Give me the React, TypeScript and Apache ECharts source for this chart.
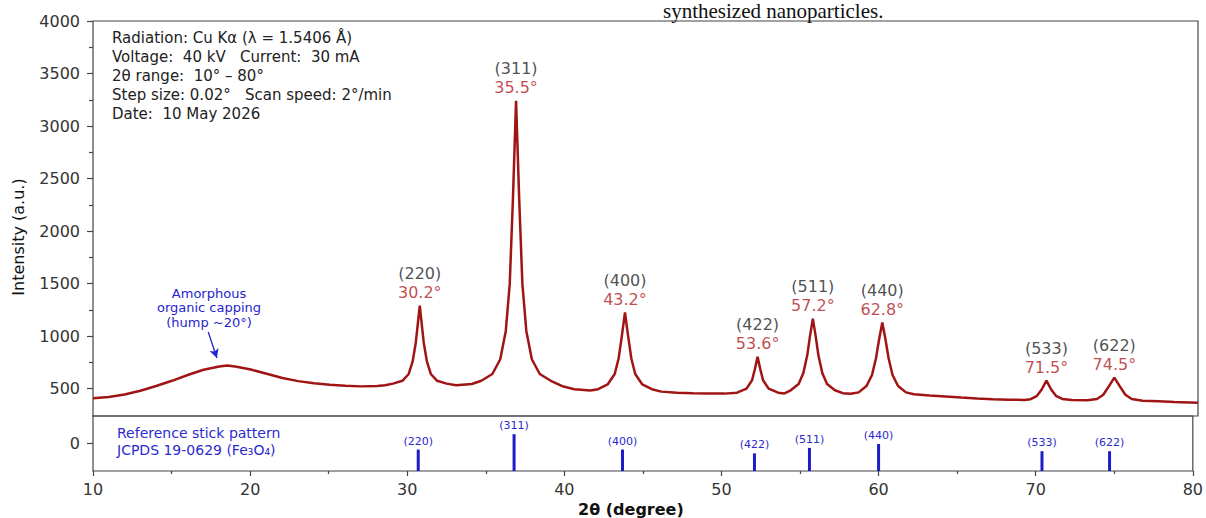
import React, { useEffect, useRef } from "react";
import * as echarts from "echarts";

const patternTheta = [
  10, 11, 12, 13, 14, 15, 16, 17, 18, 18.5, 19, 20, 21, 22, 23, 24, 25, 26, 27, 28, 28.5,
  29.0, 29.6, 30.0, 30.25, 30.45, 30.6, 30.7, 30.8, 30.95, 31.15, 31.4, 31.8, 32.4, 33, 34,
  34.6, 35.3, 35.8, 36.15, 36.4, 36.6, 36.8, 37.0, 37.2, 37.45, 37.8, 38.3, 39.0, 39.8, 40.5, 41.5,
  42.0, 42.6, 43.05, 43.3, 43.5, 43.7, 43.9, 44.1, 44.35, 44.8, 45.4, 46, 47, 48, 49, 50,
  50.8, 51.4, 51.75, 51.92, 52.1, 52.28, 52.45, 52.8, 53.4, 53.8,
  54.2, 54.7, 55.0, 55.25, 55.42, 55.6, 55.78, 55.95, 56.2, 56.5, 57.0, 57.5, 58,
  58.5, 59.0, 59.35, 59.6, 59.8, 60.0, 60.2, 60.4, 60.65, 61.0, 61.5, 62, 63, 64, 65, 66, 67, 68, 69,
  69.4, 69.8, 70.1, 70.4, 70.7, 71.0, 71.4, 72, 73,
  73.6, 74.0, 74.35, 74.7, 75.05, 75.4, 75.8, 76.5, 77.5, 78.5, 80,
];
const patternIntensity = [
  410, 420, 445, 480, 525, 575, 630, 680, 712, 720, 712, 682, 642, 602, 572, 552, 537, 527, 522, 525, 532,
  548, 575, 640, 760, 940, 1150, 1290, 1150, 940, 760, 640, 575, 548, 532, 545,
  575, 640, 780, 1050, 1500, 2300, 3240, 2300, 1500, 1050, 780, 640, 575, 520, 495, 482,
  495, 540, 640, 790, 1000, 1225, 1000, 790, 640, 540, 495, 472, 462, 456, 453, 453,
  462, 500, 580, 680, 805, 680, 580, 500, 462, 455,
  485, 545, 650, 820, 1000, 1167, 1000, 820, 650, 545, 485, 457, 452,
  465, 525, 630, 790, 970, 1130, 970, 790, 630, 525, 465, 447, 435, 425, 415, 406, 400, 395, 393,
  400, 432, 492, 576, 492, 432, 402, 392, 389,
  402, 442, 522, 605, 522, 442, 402, 386, 380, 373, 366,
];

// Indexed peaks
const peakHkl = ["(220)", "(311)", "(400)", "(422)", "(511)", "(440)", "(533)", "(622)"];
const peakAngleLabels = ["30.2°", "35.5°", "43.2°", "53.6°", "57.2°", "62.8°", "71.5°", "74.5°"];
const peakTheta = [30.7, 36.8, 43.7, 52.1, 55.6, 60.0, 70.4, 74.7];
const peakIntensity = [1290, 3240, 1225, 805, 1167, 1130, 576, 605];

// Reference stick pattern (relative intensity, %)
const stickTheta = [30.7, 36.8, 43.7, 52.1, 55.6, 60.0, 70.4, 74.7];
const stickRelIntensity = [39, 67, 39, 32, 42, 49, 36, 36];

// Axis ticks
const yMajorTicks = [500, 1000, 1500, 2000, 2500, 3000, 3500, 4000];
const yMinorTicks = [750, 1250, 1750, 2250, 2750, 3250, 3750];
const lowerTicks = [0];

// Hump arrow (data coordinates)
const humpArrowFrom = [17.3, 1040];
const humpArrowTo = [17.85, 792];

const infoLines = [
  "Radiation: Cu Kα (λ = 1.5406 Å)",
  "Voltage:\u00A0\u00A040 kV\u00A0\u00A0\u00A0Current:\u00A0\u00A030 mA",
  "2θ range:\u00A0\u00A010° – 80°",
  "Step size: 0.02°\u00A0\u00A0\u00A0Scan speed: 2°/min",
  "Date:\u00A0\u00A010 May 2026",
];
const stickLegendLines = ["Reference stick pattern", "JCPDS 19-0629 (Fe₃O₄)"];
const humpLines = ["Amorphous", "organic capping", "(hump ~20°)"];

const FONT = "DejaVu Sans";

export default function App() {
  const ref = useRef<HTMLDivElement>(null);

  useEffect(() => {
    if (!ref.current) return;
    const chart = echarts.init(ref.current, undefined, { renderer: "svg" });

    const curve = patternTheta.map((t, i) => [t, patternIntensity[i]]);
    const peaks = peakTheta.map((t, i) => [t, peakIntensity[i]]);
    const sticks = stickTheta.map((t, i) => [t, stickRelIntensity[i]]);
    const plain = (v: number) => String(v);

    const option: any = {
      animation: false,
      backgroundColor: "#ffffff",
      textStyle: { fontFamily: FONT },
      grid: [
        { left: 93, top: 21, width: 1105, height: 395, show: true, borderColor: "#444", borderWidth: 1.2, backgroundColor: "transparent" },
        { left: 93, top: 416, width: 1105, height: 55, show: true, borderColor: "#444", borderWidth: 1.2, backgroundColor: "transparent" },
      ],
      xAxis: [
        {
          type: "value", gridIndex: 0, min: 10, max: 80, interval: 10, position: "bottom",
          axisLine: { show: false, onZero: false }, axisTick: { show: false }, axisLabel: { show: false }, splitLine: { show: false },
        },
        {
          type: "value", gridIndex: 1, min: 10, max: 80, interval: 10, position: "bottom",
          axisLine: { show: false, onZero: false },
          axisTick: { show: true, length: 5, lineStyle: { color: "#444", width: 1.2 } },
          minorTick: { show: true, splitNumber: 2, length: 3, lineStyle: { color: "#444", width: 1.2 } },
          axisLabel: { color: "#333", fontSize: 16, margin: 10, fontFamily: FONT, formatter: plain },
          splitLine: { show: false },
          name: "2θ (degree)", nameLocation: "middle", nameGap: 30,
          nameTextStyle: { color: "#111", fontSize: 16, fontWeight: "bold", fontFamily: FONT, padding: [0, 24, 0, 0] },
        },
      ],
      yAxis: [
        {
          type: "value", gridIndex: 0, min: 240, max: 4000, position: "left", offset: 0,
          axisLine: { show: false, onZero: false }, splitLine: { show: false },
          axisTick: { show: true, length: 6, customValues: yMajorTicks, lineStyle: { color: "#444", width: 1.2 } },
          axisLabel: { show: true, customValues: yMajorTicks, color: "#333", fontSize: 16, margin: 13, fontFamily: FONT, formatter: plain },
        },
        {
          type: "value", gridIndex: 0, min: 240, max: 4000, position: "left", offset: 0,
          axisLine: { show: false, onZero: false }, splitLine: { show: false }, axisLabel: { show: false },
          axisTick: { show: true, length: 4, customValues: yMinorTicks, lineStyle: { color: "#444", width: 1.2 } },
        },
        {
          type: "value", gridIndex: 1, min: -250, max: 250, position: "left", offset: 0,
          axisLine: { show: false, onZero: false }, splitLine: { show: false },
          axisTick: { show: true, length: 6, customValues: lowerTicks, lineStyle: { color: "#444", width: 1.2 } },
          axisLabel: { show: true, customValues: lowerTicks, color: "#333", fontSize: 16, margin: 13, fontFamily: FONT, formatter: plain },
        },
        {
          type: "value", gridIndex: 1, min: 0, max: 100, show: false, position: "left",
        },
      ],
      series: [
        {
          type: "line", xAxisIndex: 0, yAxisIndex: 0, data: curve, showSymbol: false, symbol: "none",
          lineStyle: { color: "#a01414", width: 2.5 }, z: 3,
          markLine: {
            silent: true, symbol: ["none", "arrow"], symbolSize: [7, 9],
            label: { show: false },
            lineStyle: { color: "#2424d0", width: 1.3, type: "solid" },
            data: [[{ coord: humpArrowFrom }, { coord: humpArrowTo }]],
          },
        },
        {
          type: "scatter", xAxisIndex: 0, yAxisIndex: 0, data: peaks, symbolSize: 1,
          itemStyle: { color: "rgba(0,0,0,0)" }, z: 4,
          label: {
            show: true, position: "top", distance: 3,
            formatter: (p: any) => `{h|${peakHkl[p.dataIndex]}}\n{a|${peakAngleLabels[p.dataIndex]}}`,
            rich: {
              h: { color: "#222", fontSize: 16, lineHeight: 19, fontFamily: FONT, align: "center" },
              a: { color: "#b01c24", fontSize: 16, lineHeight: 19, fontFamily: FONT, align: "center" },
            },
          },
        },
        {
          type: "bar", xAxisIndex: 1, yAxisIndex: 3, data: sticks, barWidth: 3,
          itemStyle: { color: "#1c1cc8" },
          label: {
            show: true, position: "top", distance: 3,
            formatter: (p: any) => peakHkl[p.dataIndex],
            color: "#2a2acc", fontSize: 11, fontFamily: FONT,
          },
        },
      ],
      graphic: [
        {
          type: "text", x: 663, y: 0, silent: true,
          style: { text: "synthesized nanoparticles.", font: "21px 'Liberation Serif'", fill: "#111", textVerticalAlign: "top", verticalAlign: "top" },
        },
        {
          type: "text", x: 112, y: 28.5, silent: true,
          style: { text: infoLines.join("\n"), font: `15px '${FONT}'`, lineHeight: 19, fill: "#222", textVerticalAlign: "top", verticalAlign: "top" },
        },
        {
          type: "text", x: 117, y: 424.5, silent: true,
          style: { text: stickLegendLines.join("\n"), font: `14px '${FONT}'`, lineHeight: 17, fill: "#2b2bd0", textVerticalAlign: "top", verticalAlign: "top" },
        },
        {
          type: "text", x: 209, y: 285.75, silent: true,
          style: { text: humpLines.join("\n"), font: `13px '${FONT}'`, lineHeight: 14.5, fill: "#2525d0", textAlign: "center", align: "center", textVerticalAlign: "top", verticalAlign: "top" },
        },
        {
          type: "text", x: 18, y: 237, rotation: Math.PI / 2, silent: true,
          style: { text: "Intensity (a.u.)", font: `16px '${FONT}'`, fill: "#111", textAlign: "center", align: "center", textVerticalAlign: "middle", verticalAlign: "middle" },
        },
      ],
    };

    chart.setOption(option);
    return () => chart.dispose();
  }, []);

  return (
    <div
      ref={ref}
      style={{ position: "fixed", left: 0, top: 0, width: 1206, height: 518, background: "#fff" }}
    />
  );
}
